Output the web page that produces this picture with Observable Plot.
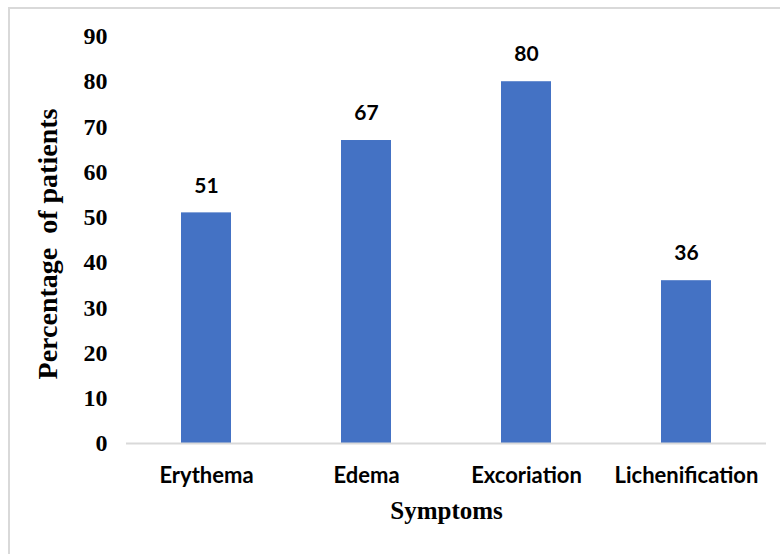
<!DOCTYPE html>
<html>
<head>
<meta charset="utf-8">
<script src="https://cdn.jsdelivr.net/npm/d3@7"></script>
<script src="https://cdn.jsdelivr.net/npm/@observablehq/plot@0.6"></script>
<style>
  html, body { margin: 0; padding: 0; background: #fff; }
  #wrap { position: relative; width: 780px; height: 554px; overflow: hidden; }
  #border { position: absolute; left: 8px; top: 7px; width: 800px; height: 600px; border-left: 2px solid #d9d9d9; border-top: 2px solid #d9d9d9; box-sizing: border-box; }
  #chart { position: absolute; left: 0; top: 0; }
</style>
</head>
<body>
<div id="wrap"><div id="border"></div><div id="chart"></div></div>
<script>
const symptoms = ["Erythema", "Edema", "Excoriation", "Lichenification"];
const percentages = [51, 67, 80, 36];
const yTicks = [0, 10, 20, 30, 40, 50, 60, 70, 80, 90];

const data = symptoms.map((s, i) => ({symptom: s, value: percentages[i]}));

const serif = "'Liberation Serif', 'Times New Roman', serif";
const sans = "Lato, 'Open Sans', sans-serif";

const plot = Plot.plot({
  width: 780,
  height: 554,
  marginLeft: 126,
  marginRight: 14,
  marginTop: 36,
  marginBottom: 111,
  style: {background: "transparent", overflow: "visible"},
  x: {domain: symptoms, paddingInner: 0.6875, paddingOuter: 0.34375, label: null},
  y: {domain: [0, 90], label: null},
  marks: [
    Plot.barY(data, {x: "symptom", y: "value", fill: "#4472c4"}),
    Plot.ruleY([0], {stroke: "#d9d9d9", strokeWidth: 2}),
    Plot.text(data, {x: "symptom", y: "value", text: d => String(d.value), dy: -27, fontSize: 21, fontWeight: "bold", fontFamily: sans, fill: "#000"}),
    Plot.axisY({ticks: yTicks, tickSize: 0, tickPadding: 19, fontSize: 24, fontWeight: "bold", fontFamily: serif, fill: "#000", label: null}),
    Plot.axisX({tickSize: 0, tickPadding: 24, fontSize: 22, fontWeight: "bold", fontFamily: sans, fill: "#000", label: null}),
    Plot.text(["Percentage  of patients"], {frameAnchor: "left", textAnchor: "middle", dx: -78, dy: 4, rotate: -90, fontSize: 28, fontWeight: "bold", fontFamily: serif, fill: "#000"}),
    Plot.text(["Symptoms"], {frameAnchor: "bottom", dy: 75, fontSize: 25, fontWeight: "bold", fontFamily: serif, fill: "#000"})
  ]
});
plot.querySelectorAll("text").forEach(t => t.style.whiteSpace = "pre");
document.getElementById("chart").appendChild(plot);
</script>
</body>
</html>
